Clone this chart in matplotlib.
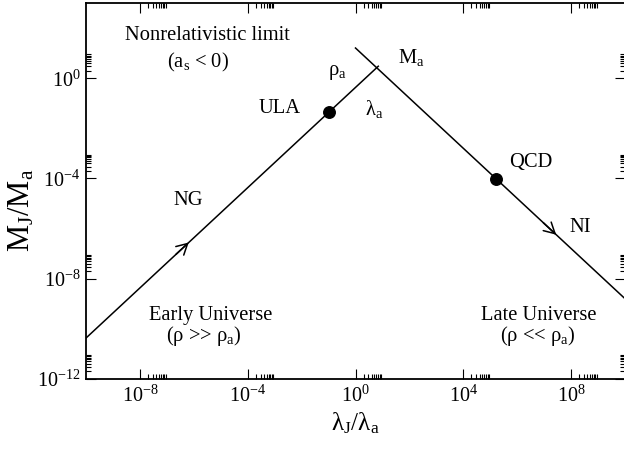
import numpy as np
import matplotlib
matplotlib.use('Agg')
import matplotlib.pyplot as plt
from matplotlib.ticker import FixedLocator, FuncFormatter, NullFormatter

plt.rcParams['font.family'] = ['Liberation Serif', 'DejaVu Serif']
plt.rcParams['mathtext.fontset'] = 'custom'
plt.rcParams['mathtext.rm'] = 'Liberation Serif'
plt.rcParams['mathtext.it'] = 'Liberation Serif:italic'

# branches of the Jeans mass vs Jeans length
early_x = [1e-10, 7.0]
early_y = [4.3e-11, 3.0]
late_x = [1.0, 1e10]
late_y = [16.0, 1.6e-9]

# ULA and QCD axion points
point_x = [0.1, 1.66e5]
point_y = [0.043, 9.5e-5]

# arrow tips along each branch
arrow_x = [6.5e-7, 2.8e7]
arrow_y = [2.8e-7, 5.7e-7]

x_major = [1e-8, 1e-4, 1e0, 1e4, 1e8]
y_major = [1e-12, 1e-8, 1e-4, 1e0]

fig = plt.figure(figsize=(6.24, 4.49), dpi=100)
ax = fig.add_axes([86/624, 1-379/449, 539/624, 376/449])

ax.plot(early_x, early_y, color='black', lw=1.1)
ax.plot(late_x, late_y, color='black', lw=1.1)
ax.plot(point_x, point_y, 'o', color='black', markersize=8.3)

# arrowheads pointing along each branch
ax.annotate('', xy=(arrow_x[0], arrow_y[0]), xytext=(arrow_x[0]/3, arrow_y[0]/3),
            arrowprops=dict(arrowstyle='->,head_length=0.55,head_width=0.3', lw=1.1,
                            color='black', mutation_scale=14, shrinkA=0, shrinkB=0))
ax.annotate('', xy=(arrow_x[1], arrow_y[1]), xytext=(arrow_x[1]/3, arrow_y[1]*3),
            arrowprops=dict(arrowstyle='->,head_length=0.55,head_width=0.3', lw=1.1,
                            color='black', mutation_scale=14, shrinkA=0, shrinkB=0))

ax.set_xscale('log')
ax.set_yscale('log')
ax.set_xlim(1e-10, 1e10)
ax.set_ylim(1e-12, 1e3)

x_minor = [k*m for m in x_major for k in range(2, 10)]
y_minor = [k*m for m in y_major for k in range(2, 10)]
ax.xaxis.set_major_locator(FixedLocator(x_major))
ax.xaxis.set_minor_locator(FixedLocator(x_minor))
ax.yaxis.set_major_locator(FixedLocator(y_major))
ax.yaxis.set_minor_locator(FixedLocator(y_minor))

def pow10(v, pos):
    return r'10$^{\mathrm{%d}}$' % int(round(np.log10(v)))

ax.xaxis.set_major_formatter(FuncFormatter(pow10))
ax.yaxis.set_major_formatter(FuncFormatter(pow10))
ax.xaxis.set_minor_formatter(NullFormatter())
ax.yaxis.set_minor_formatter(NullFormatter())

ax.tick_params(which='both', direction='in', top=True, right=True, width=0.8)
ax.tick_params(which='major', length=7.2, labelsize=14.5)
ax.tick_params(which='minor', length=3.6)
ax.tick_params(axis='x', pad=5)
ax.tick_params(axis='y', pad=4)
for s in ax.spines.values():
    s.set_linewidth(1.3)

ax.set_xlabel(r'λ$_\mathrm{J}$/λ$_\mathrm{a}$', fontsize=18, labelpad=2)
ax.set_ylabel(r'M$_\mathrm{J}$/M$_\mathrm{a}$', fontsize=22, va='center')
ax.yaxis.set_label_coords(-0.12, 0.45)

fs = 14.8
ax.text(3.3e-6, 33, 'Nonrelativistic limit', fontsize=fs, ha='center', va='baseline')
ax.text(1.5e-6, 2.75, r'(a$_\mathrm{s}$ < 0)', fontsize=fs, ha='center', va='baseline')
ax.text(1.5e-3, 0.04, 'ULA', fontsize=fs, ha='center', va='baseline')
ax.text(6e-7, 9e-6, 'NG', fontsize=fs, ha='center', va='baseline')
ax.text(0.21, 1.7, r'ρ$_\mathrm{a}$', fontsize=fs, ha='center', va='center')
ax.text(117, 4.0, r'M$_\mathrm{a}$', fontsize=fs, ha='center', va='baseline')
ax.text(5.0, 0.033, r'λ$_\mathrm{a}$', fontsize=fs, ha='center', va='baseline')
ax.text(3.3e6, 2.75e-4, 'QCD', fontsize=fs, ha='center', va='baseline')
ax.text(2.1e8, 7.6e-7, 'NI', fontsize=fs, ha='center', va='baseline')
ax.text(4.3e-6, 2.3e-10, 'Early Universe', fontsize=fs, ha='center', va='baseline')
ax.text(2.3e-6, 3.3e-11, r'(ρ >> ρ$_\mathrm{a}$)', fontsize=fs, ha='center', va='baseline')
ax.text(6.5e6, 2.3e-10, 'Late Universe', fontsize=fs, ha='center', va='baseline')
ax.text(6e6, 3.3e-11, r'(ρ << ρ$_\mathrm{a}$)', fontsize=fs, ha='center', va='baseline')

fig.savefig('out.png', dpi=100)
